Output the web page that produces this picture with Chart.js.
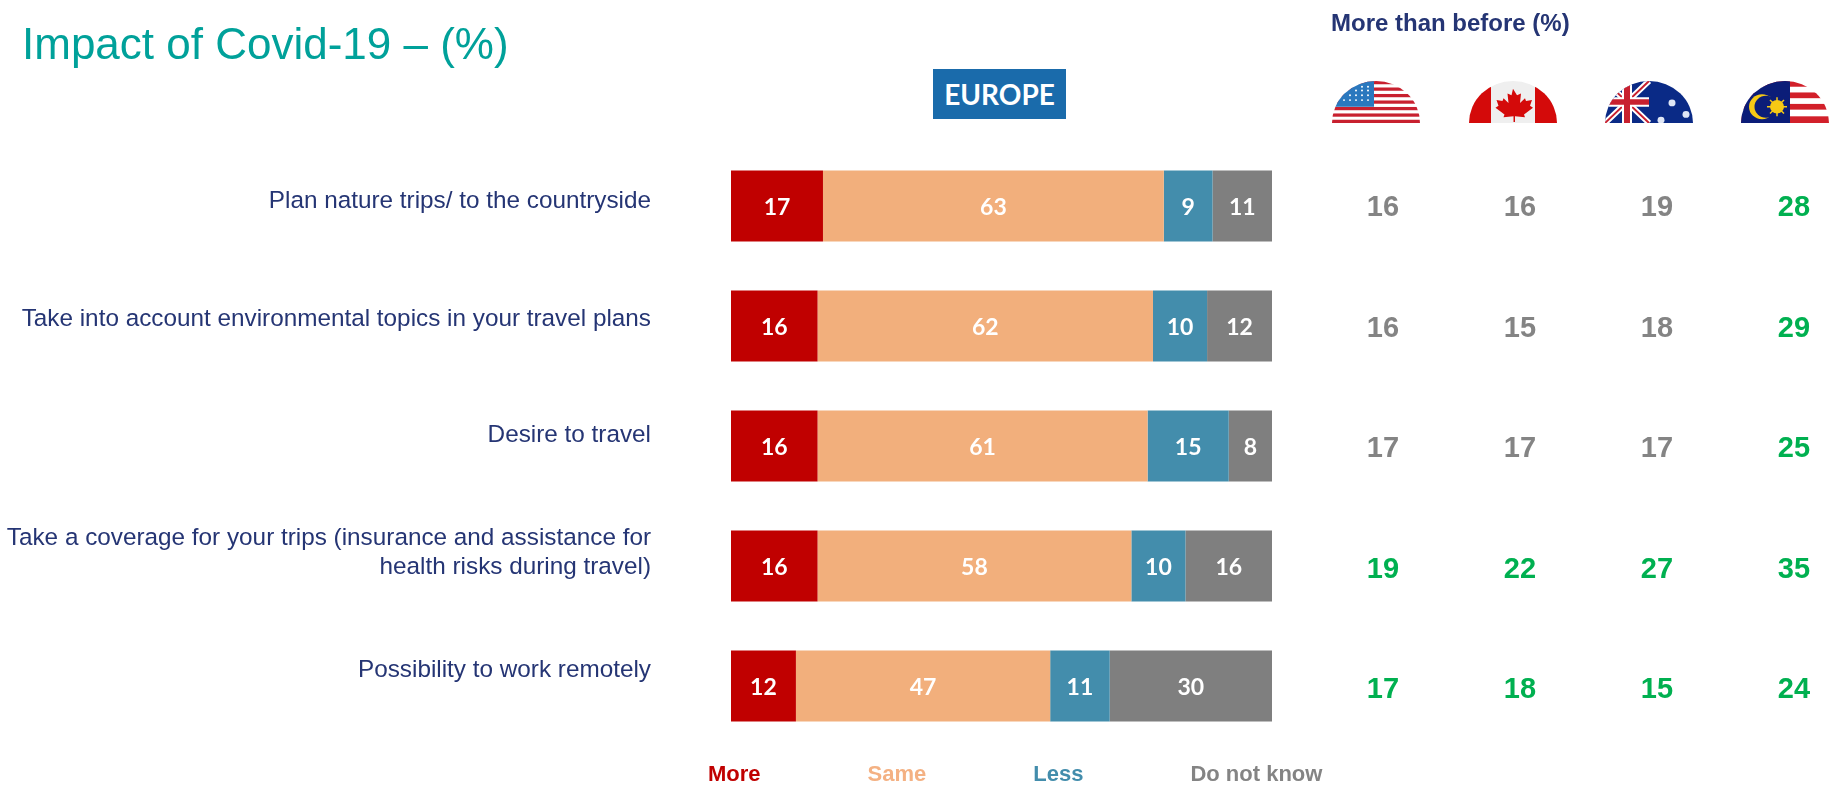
<!DOCTYPE html>
<html>
<head>
<meta charset="utf-8">
<title>Impact of Covid-19</title>
<script src="https://cdn.jsdelivr.net/npm/chart.js@4/dist/chart.umd.min.js"></script>
<style>
  html, body { margin: 0; padding: 0; background: #fff; }
  body { width: 1830px; height: 786px; position: relative; overflow: hidden; font-family: "Liberation Sans", Arial, sans-serif; }
  #wrap { position: absolute; left: 0; top: 0; width: 1830px; height: 786px; }
  .title { position: absolute; left: 22px; top: 17px; font-size: 44px; line-height: 54px; color: #00A19A; white-space: nowrap; }
  .region { position: absolute; left: 933px; top: 69px; width: 133px; height: 50px; background: #1A6BAB; color: #fff; text-align: center; font: bold 28px/50px Lato, sans-serif; }
  .more { position: absolute; left: 1331px; top: 8px; font-size: 24px; line-height: 30px; font-weight: bold; color: #253574; white-space: nowrap; }
  .flag { position: absolute; top: 81px; width: 88px; height: 42px; }
</style>
</head>
<body>
<div id="wrap"><canvas id="impactChart"></canvas></div>
<div class="title">Impact of Covid-19 – (%)</div>
<div class="region">EUROPE</div>
<div class="more">More than before (%)</div>

<svg style="position:absolute;width:0;height:0"><defs>
  <clipPath id="dome"><path d="M0 44A44 44 0 0 1 88 44Z"/></clipPath>
</defs></svg>

<svg class="flag" style="left:1332px" viewBox="0 0 88 44" preserveAspectRatio="none"><g clip-path="url(#dome)">
  <rect width="88" height="44" fill="#fff"/>
  <g fill="#C8202F">
    <rect y="0" width="88" height="3.4"/><rect y="6.8" width="88" height="3.4"/><rect y="13.6" width="88" height="3.4"/>
    <rect y="20.4" width="88" height="3.4"/><rect y="27.2" width="88" height="3.4"/><rect y="34" width="88" height="3.4"/><rect y="40.6" width="88" height="3.4"/>
  </g>
  <rect width="42" height="27" fill="#2A78BE"/>
  <g fill="#fff">
    <circle cx="30" cy="6" r="1"/><circle cx="36" cy="6" r="1"/><circle cx="24" cy="10" r="1"/><circle cx="30" cy="10" r="1"/><circle cx="36" cy="10" r="1"/>
    <circle cx="18" cy="15" r="1"/><circle cx="24" cy="15" r="1"/><circle cx="30" cy="15" r="1"/><circle cx="36" cy="15" r="1"/>
    <circle cx="12" cy="20" r="1"/><circle cx="18" cy="20" r="1"/><circle cx="24" cy="20" r="1"/><circle cx="30" cy="20" r="1"/><circle cx="36" cy="20" r="1"/>
  </g>
</g></svg>

<svg class="flag" style="left:1469px" viewBox="0 0 88 44" preserveAspectRatio="none"><g clip-path="url(#dome)">
  <rect width="88" height="44" fill="#EFEFEF"/>
  <rect width="22" height="44" fill="#D40A0A"/><rect x="66" width="22" height="44" fill="#D40A0A"/>
  <path fill="#D40A0A" d="M44 8l4 7 4-2-1 10 5-5 1 3 6-1-2 6 3 2-9 7 1 3-10-1v6h-1.500v-6l-10 1 1-3-9-7 3-2-2-6 6 1 1-3 5 5-1-10 4 2z"/>
</g></svg>

<svg class="flag" style="left:1605px" viewBox="0 0 88 44" preserveAspectRatio="none"><g clip-path="url(#dome)">
  <rect width="88" height="44" fill="#0A2A86"/>
  <path stroke="#fff" stroke-width="6" d="M0 0L44 44M44 0L0 44"/>
  <path stroke="#C8202F" stroke-width="2" d="M0 0L44 44M44 0L0 44"/>
  <path stroke="#fff" stroke-width="10" d="M22 0V44M0 22H44"/>
  <path stroke="#C8202F" stroke-width="6" d="M22 0V44M0 22H44"/>
  <g fill="#dfe6f5"><circle cx="67" cy="23" r="3.500"/><circle cx="81" cy="35" r="3.500"/><circle cx="56" cy="41" r="3.500"/></g>
</g></svg>

<svg class="flag" style="left:1741px" viewBox="0 0 88 44" preserveAspectRatio="none"><g clip-path="url(#dome)">
  <rect width="88" height="44" fill="#fff"/>
  <g fill="#D2202A">
    <rect y="0" width="88" height="6"/><rect y="12" width="88" height="6"/><rect y="24" width="88" height="6"/><rect y="37" width="88" height="7"/>
  </g>
  <rect width="49" height="44" fill="#0B1D78"/>
  <circle cx="21" cy="27" r="13" fill="#F6C915"/><circle cx="25" cy="27" r="11.500" fill="#0B1D78"/>
  <circle cx="36" cy="27" r="7" fill="#F6C915"/>
  <path stroke="#F6C915" stroke-width="1.500" d="M26 27H46M36 17V37M29 20L43 34M43 20L29 34"/>
</g></svg>

<script>
const categories = [
    'Plan nature trips/ to the countryside',
    'Take into account environmental topics in your travel plans',
    'Desire to travel',
    ['Take a coverage for your trips (insurance and assistance for', 'health risks during travel)'],
    'Possibility to work remotely'
];

const seriesNames = ['More', 'Same', 'Less', 'Do not know'];
const more = [17, 16, 16, 16, 12];
const same = [63, 62, 61, 58, 47];
const less = [9, 10, 15, 10, 11];
const dontKnow = [11, 12, 8, 16, 30];

// "More than before" columns, one per flag
const usa = [16, 16, 17, 19, 17];
const canada = [16, 15, 17, 22, 18];
const australia = [19, 18, 17, 27, 15];
const malaysia = [28, 29, 25, 35, 24];
const greenUsa = [false, false, false, true, true];
const greenCanada = [false, false, false, true, true];
const greenAustralia = [false, false, false, true, true];
const greenMalaysia = [true, true, true, true, true];

const countryColumns = [
    { x: 1383, values: usa, green: greenUsa },
    { x: 1520, values: canada, green: greenCanada },
    { x: 1657, values: australia, green: greenAustralia },
    { x: 1794, values: malaysia, green: greenMalaysia }
];

const barColors = ['#C00000', '#F2AF7C', '#438DAC', '#7F7F7F'];
const legendColors = ['#C00000', '#F4B183', '#438DAC', '#848484'];

// the row labels sit a bit above their bars, more so further down
const labelNudge = [-5, -7, -11, -13, -16];

// white numbers inside the bars
const barLabels = {
    id: 'barLabels',
    afterDatasetsDraw(chart) {
        const ctx = chart.ctx;
        ctx.save();
        ctx.font = 'bold 23px Lato, sans-serif';
        ctx.fillStyle = '#fff';
        ctx.textAlign = 'center';
        ctx.textBaseline = 'middle';
        chart.data.datasets.forEach((ds, i) => {
            chart.getDatasetMeta(i).data.forEach((bar, j) => {
                const p = bar.getProps(['x', 'base', 'y']);
                ctx.fillText(ds.data[j], (p.x + p.base) / 2, p.y + 2);
            });
        });
        ctx.restore();
    }
};

// the country numbers on the right, lined up with each bar
const countryTable = {
    id: 'countryTable',
    afterDraw(chart) {
        const ctx = chart.ctx;
        const y = chart.scales.y;
        ctx.save();
        ctx.font = 'bold 29px "Liberation Sans", Arial, sans-serif';
        ctx.textAlign = 'center';
        ctx.textBaseline = 'middle';
        countryColumns.forEach(col => {
            col.values.forEach((v, i) => {
                ctx.fillStyle = col.green[i] ? '#00B050' : '#848484';
                ctx.fillText(v, col.x, y.getPixelForValue(i) + 2 + i * 0.5);
            });
        });
        ctx.restore();
    }
};

// legend sits under the bars but is wider than the plot, so place it by hand
const placeBoxes = {
    id: 'placeBoxes',
    afterLayout(chart) {
        const legend = chart.legend;
        legend.left = 601;
        legend.right = 1830;
        legend.top = 764;
        legend.bottom = 786;
    },
    beforeDraw(chart) {
        const y = chart.scales.y;
        y.getLabelItems(chart.chartArea).forEach((item, i) => {
            item.options.translation[1] = y.getPixelForTick(i) + labelNudge[i];
        });
    }
};

const datasets = [more, same, less, dontKnow].map((values, i) => ({
    label: seriesNames[i],
    data: values,
    backgroundColor: barColors[i],
    borderWidth: 0,
    barPercentage: 0.59,
    categoryPercentage: 1
}));

new Chart(document.getElementById('impactChart'), {
    type: 'bar',
    data: { labels: categories, datasets: datasets },
    plugins: [barLabels, countryTable, placeBoxes],
    options: {
        indexAxis: 'y',
        responsive: true,
        maintainAspectRatio: false,
        animation: false,
        layout: { padding: { left: 0, right: 558, top: 146, bottom: 8 } },
        scales: {
            x: {
                display: false,
                stacked: true,
                min: 0,
                max: 100
            },
            y: {
                stacked: true,
                afterFit(scale) {
                    scale.width = 731;
                    // tick padding would otherwise eat into the plot height
                    scale.paddingTop = 0;
                    scale.paddingBottom = 0;
                },
                grid: { display: false, drawTicks: false },
                border: { display: false },
                ticks: {
                    color: '#253574',
                    padding: 80,
                    autoSkip: false,
                    font: { family: '"Liberation Sans", Arial, sans-serif', size: 24.3 }
                }
            }
        },
        plugins: {
            tooltip: { enabled: false },
            legend: {
                position: 'bottom',
                align: 'start',
                labels: {
                    boxWidth: 96,
                    boxHeight: 0,
                    padding: 0,
                    font: { family: '"Liberation Sans", Arial, sans-serif', size: 22, weight: 'bold' },
                    generateLabels() {
                        return seriesNames.map((name, i) => ({
                            text: name,
                            fontColor: legendColors[i],
                            fillStyle: 'rgba(0,0,0,0)',
                            strokeStyle: 'rgba(0,0,0,0)',
                            lineWidth: 0,
                            datasetIndex: i
                        }));
                    }
                }
            }
        }
    }
});
</script>
</body>
</html>
